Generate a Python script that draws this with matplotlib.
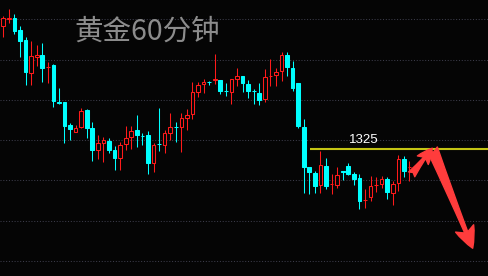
import matplotlib
matplotlib.use('Agg')
import matplotlib.pyplot as plt
import numpy as np
from matplotlib.patches import FancyArrowPatch

# hourly gold candles (oldest first)
opens = [
    1340.29, 1341.15, 1341.21, 1339.76, 1338.52, 1334.46, 1336.45, 1336.66, 1335.17, 1335.42,
    1330.83, 1330.87, 1327.98, 1327.07, 1327.73, 1329.84, 1327.64, 1324.91, 1325.71, 1326.03,
    1324.88, 1323.85, 1325.58, 1326.53, 1327.36, 1326.64, 1326.74, 1323.23, 1325.64, 1325.50,
    1326.95, 1327.73, 1327.77, 1328.88, 1329.30, 1332.11, 1333.02, 1333.37, 1333.62, 1333.56,
    1332.22, 1332.11, 1333.64, 1334.05, 1333.10, 1332.25, 1331.91, 1331.24, 1334.01, 1334.21,
    1334.67, 1336.66, 1335.01, 1333.15, 1327.69, 1322.73, 1321.99, 1320.50, 1322.89, 1320.60,
    1320.54, 1322.23, 1322.89, 1321.88, 1321.40, 1318.68, 1319.05, 1320.54, 1320.62, 1321.32,
    1319.58, 1320.75, 1323.76, 1322.74]
highs = [
    1341.49, 1342.36, 1341.74, 1340.21, 1338.93, 1338.43, 1337.90, 1338.18, 1335.75, 1335.54,
    1332.56, 1330.87, 1328.26, 1327.94, 1330.12, 1329.96, 1328.31, 1326.74, 1326.45, 1326.40,
    1325.37, 1325.91, 1327.85, 1327.85, 1329.22, 1327.02, 1327.23, 1325.71, 1330.12, 1327.36,
    1329.43, 1328.31, 1329.46, 1329.96, 1333.35, 1333.35, 1333.64, 1333.40, 1336.78, 1333.60,
    1333.22, 1333.70, 1335.01, 1334.08, 1333.56, 1332.40, 1333.15, 1334.88, 1336.12, 1335.01,
    1337.07, 1337.07, 1335.95, 1333.20, 1328.72, 1322.76, 1322.27, 1324.75, 1323.92, 1321.86,
    1322.81, 1322.26, 1323.26, 1322.19, 1321.94, 1320.02, 1321.65, 1321.53, 1321.71, 1321.53,
    1321.03, 1324.29, 1324.16, 1323.57]
lows = [
    1338.93, 1340.59, 1339.30, 1336.45, 1332.94, 1332.94, 1335.33, 1333.35, 1333.18, 1330.25,
    1330.58, 1325.78, 1326.12, 1327.07, 1327.57, 1326.40, 1323.55, 1323.76, 1323.43, 1324.47,
    1322.40, 1322.40, 1324.88, 1324.96, 1325.29, 1325.50, 1321.90, 1322.19, 1324.79, 1324.47,
    1326.12, 1325.91, 1324.67, 1327.36, 1328.72, 1331.41, 1331.98, 1332.94, 1333.06, 1331.82,
    1331.57, 1330.58, 1332.81, 1332.03, 1331.29, 1330.58, 1330.46, 1330.87, 1332.81, 1332.85,
    1333.47, 1334.09, 1332.23, 1327.60, 1319.58, 1319.42, 1319.58, 1319.51, 1320.00, 1319.42,
    1320.19, 1321.16, 1321.78, 1320.54, 1317.58, 1317.71, 1318.61, 1319.67, 1320.16, 1318.82,
    1318.06, 1319.82, 1321.49, 1321.03]
closes = [
    1341.21, 1341.25, 1339.67, 1338.43, 1334.59, 1336.53, 1336.66, 1335.08, 1335.23, 1330.99,
    1330.74, 1327.85, 1327.52, 1327.64, 1329.67, 1327.64, 1324.91, 1325.74, 1326.12, 1324.88,
    1323.85, 1325.50, 1326.33, 1327.23, 1326.74, 1326.59, 1323.30, 1325.50, 1325.60, 1326.95,
    1327.69, 1327.67, 1328.81, 1329.22, 1332.03, 1332.90, 1333.27, 1333.31, 1333.68, 1332.19,
    1332.17, 1333.68, 1334.05, 1333.22, 1332.23, 1332.20, 1331.08, 1333.89, 1334.08, 1334.51,
    1336.66, 1335.21, 1332.53, 1327.85, 1322.81, 1322.19, 1320.41, 1323.02, 1320.41, 1320.65,
    1321.78, 1322.19, 1321.90, 1321.30, 1318.59, 1318.72, 1320.39, 1320.59, 1321.24, 1319.71,
    1320.64, 1323.76, 1322.31, 1322.79]

grid_levels = [1311.1, 1316.1, 1321.1, 1326.1, 1331.1, 1336.1, 1341.1]
resistance = 1325
resistance_start = 55.1        # candle index where the yellow line begins
title = '黄金60分钟'

# arrow anchors (candle index, price)
arrow_up = ((73.4, 1321.86), (77.1, 1325.1))
arrow_down = ((77.1, 1325.0), (84.36, 1312.69))

BG = '#050505'
UP = '#ff1a1a'
DOWN = '#00ffff'
ARROW = '#ff3c3c'

fig = plt.figure(figsize=(4.89, 2.76), dpi=100, facecolor=BG)
ax = fig.add_axes([0, 0, 1, 1])
ax.set_facecolor(BG)

xlim = (-0.59, 87.29)
ax.set_xlim(*xlim)
ax.set_ylim(1309.25, 1343.48)
ax.axis('off')

# dotted horizontal grid
ax.hlines(grid_levels, xlim[0], xlim[1], colors='#3c3c4a',
          linestyles=(0, (1, 1.7)), linewidth=0.75, zorder=1)

o = np.array(opens)
h = np.array(highs)
l = np.array(lows)
c = np.array(closes)
x = np.arange(len(o))
up = c >= o
cols = np.where(up, UP, DOWN)

ax.vlines(x, l, h, colors=cols, linewidth=0.75, zorder=2)

bottom = np.minimum(o, c)
height = np.maximum(np.abs(c - o), 0.02)
ax.bar(x[up], height[up], bottom=bottom[up], width=0.66,
       facecolor=BG, edgecolor=UP, linewidth=0.75, zorder=3)
ax.bar(x[~up], height[~up], bottom=bottom[~up], width=0.66,
       facecolor=DOWN, edgecolor=DOWN, linewidth=0.75, zorder=3)

# resistance line + label
ax.hlines(resistance, resistance_start, xlim[1], colors='#c4c414',
          linewidth=1.5, zorder=4)
ax.text(64.8, resistance + 0.35, str(resistance), color='white',
        fontsize=9.5, family='Liberation Sans', ha='center', va='bottom',
        zorder=5)

# hand drawn style arrows
for (p0, p1), scale in ((arrow_up, 20), (arrow_down, 28)):
    arr = FancyArrowPatch(p0, p1,
                          arrowstyle='fancy,head_length=0.55,head_width=0.5,tail_width=0.28',
                          mutation_scale=scale, color=ARROW, shrinkA=0, shrinkB=0,
                          zorder=6)
    ax.add_patch(arr)

ax.text(0.152, 0.886, title, transform=ax.transAxes, fontsize=20.5,
        color='#8c8c8c', family=['Noto Sans CJK SC', 'DejaVu Sans'],
        ha='left', va='center', zorder=5)

fig.savefig('out.png', dpi=100, facecolor=BG)
